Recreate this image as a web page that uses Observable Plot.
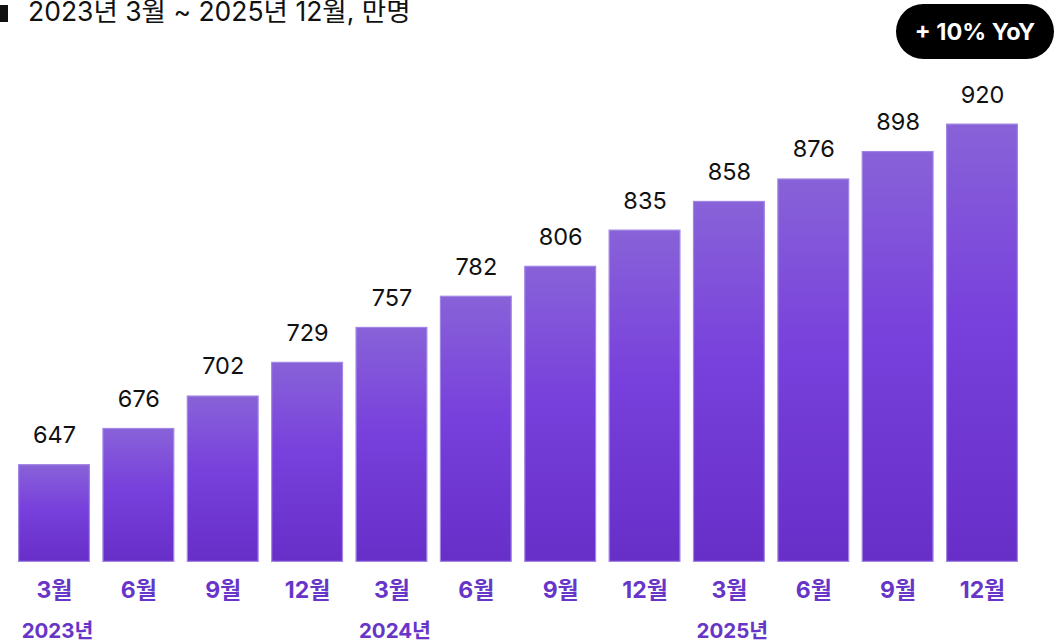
<!DOCTYPE html>
<html>
<head>
<meta charset="utf-8">
<script src="https://cdn.jsdelivr.net/npm/d3@7"></script>
<script src="https://cdn.jsdelivr.net/npm/@observablehq/plot@0.6"></script>
<style>
  html, body { margin: 0; padding: 0; background: #fff; }
  body { font-family: Inter, "Noto Sans CJK KR", sans-serif; }
  #wrap { position: relative; width: 1056px; height: 642px; overflow: hidden; }
  #header { position: relative; width: 1056px; height: 62px; }
  #title { position: absolute; left: 28px; top: -6px; font-size: 26.5px; line-height: 34px; color: #111; white-space: nowrap; }
  #marker { position: absolute; left: 0; top: 5px; width: 8px; height: 17px; background: #111; }
  #badge { position: absolute; left: 896px; top: 4px; width: 158px; height: 55px; border-radius: 28px; background: #000; color: #fff; font-weight: 700; font-size: 23.5px; line-height: 55px; text-align: center; }
  #chart svg { display: block; }
</style>
</head>
<body>
<div id="wrap">
  <div id="header">
    <div id="marker"></div>
    <div id="title">2023년 3월 ~ 2025년 12월, 만명</div>
    <div id="badge">+ 10% YoY</div>
  </div>
  <div id="chart"></div>
</div>
<script>
const keys = ["2023-3","2023-6","2023-9","2023-12","2024-3","2024-6","2024-9","2024-12","2025-3","2025-6","2025-9","2025-12"];
const months = ["3월","6월","9월","12월","3월","6월","9월","12월","3월","6월","9월","12월"];
const values = [647, 676, 702, 729, 757, 782, 806, 835, 858, 876, 898, 920];
const yearKeys = ["2023-3", "2024-3", "2025-3"];
const yearLabels = ["2023년", "2024년", "2025년"];

const data = keys.map((k, i) => ({key: k, month: months[i], value: values[i]}));
const years = yearKeys.map((k, i) => ({key: k, label: yearLabels[i]}));

const purple = "#6736c9";
const font = "Inter, 'Noto Sans CJK KR', sans-serif";

const defs = () => {
  const svg = d3.create("svg:defs");
  const g = svg.append("linearGradient").attr("id", "barGrad").attr("x1", 0).attr("y1", 0).attr("x2", 0).attr("y2", 1);
  g.append("stop").attr("offset", "0%").attr("stop-color", "#8862d8");
  g.append("stop").attr("offset", "45%").attr("stop-color", "#7840dc");
  g.append("stop").attr("offset", "100%").attr("stop-color", "#672ec8");
  return svg.node();
};

const chart = Plot.plot({
  width: 1056,
  height: 580,
  marginLeft: 18,
  marginRight: 38,
  marginTop: 20,
  marginBottom: 80,
  style: {fontFamily: font, background: "transparent", overflow: "visible"},
  x: {domain: keys, paddingInner: 0.1465, paddingOuter: 0, round: false, axis: null},
  y: {domain: [568.5, 920], range: [500, 61.5], axis: null},
  marks: [
    defs,
    Plot.barY(data, {x: "key", y1: 568.5, y2: "value", fill: "url(#barGrad)", stroke: "#a185e3", strokeWidth: 1.2, inset: 0.6}),
    Plot.text(data, {x: "key", y: "value", text: d => String(d.value), dy: -29, fontSize: 23.5, fill: "#111"}),
    Plot.text(data, {x: "key", text: "month", frameAnchor: "bottom", dy: 35, fontSize: 23, fontWeight: 700, fill: purple}),
    Plot.text(years, {x: "key", text: "label", frameAnchor: "bottom", dy: 75, dx: 3, fontSize: 20.5, fontWeight: 700, fill: purple})
  ]
});
document.getElementById("chart").appendChild(chart);
</script>
</body>
</html>
